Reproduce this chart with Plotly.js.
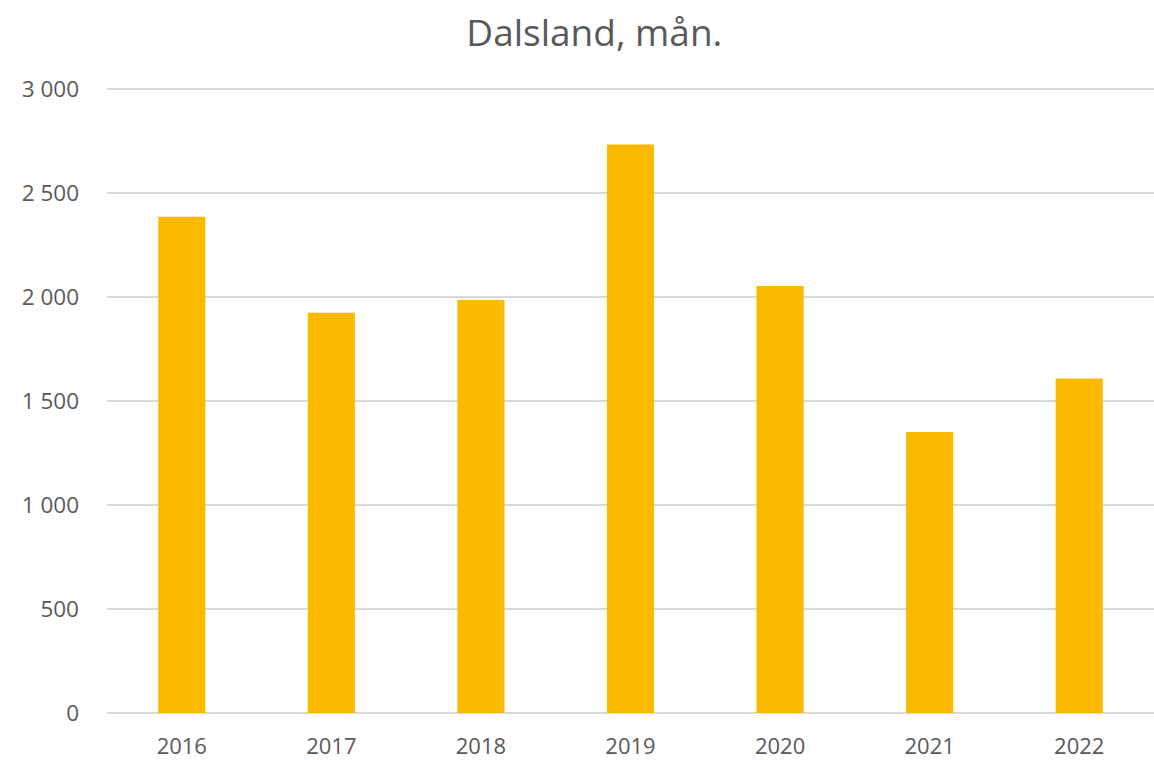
<!DOCTYPE html>
<html>
<head>
<meta charset="utf-8">
<script src="https://cdn.plot.ly/plotly-3.0.1.min.js"></script>
<style>html,body{margin:0;padding:0;background:#fff;}#chart{width:1154px;height:760px;}</style>
</head>
<body>
<div id="chart"></div>
<script>
const years = ['2016', '2017', '2018', '2019', '2020', '2021', '2022'];
const values = [2386, 1925, 1986, 2734, 2054, 1351, 1609];
const yTickVals = [0, 500, 1000, 1500, 2000, 2500, 3000];

const trace = {
  type: 'bar',
  x: years,
  y: values,
  marker: { color: '#FBB900' },
  hoverinfo: 'x+y'
};

const layout = {
  width: 1154,
  height: 760,
  paper_bgcolor: '#ffffff',
  plot_bgcolor: '#ffffff',
  separators: ', ',
  font: { family: '"Open Sans", sans-serif', color: '#595959', size: 22 },
  title: {
    text: 'Dalsland, mån.',
    font: { size: 37, color: '#595959', family: '"Open Sans", sans-serif' },
    x: 0.515, xanchor: 'center',
    y: 0.957, yanchor: 'middle'
  },
  margin: { l: 107, r: 0, t: 85, b: 47 },
  bargap: 0.685,
  showlegend: false,
  xaxis: {
    type: 'category',
    showgrid: false,
    zeroline: false,
    showline: false,
    ticks: '',
    ticklabelstandoff: 18,
    tickfont: { size: 22, color: '#595959' }
  },
  yaxis: {
    range: [0, 3020],
    tickvals: yTickVals,
    tickformat: ',d',
    showgrid: true,
    gridcolor: '#d9d9d9',
    gridwidth: 2,
    zeroline: true,
    zerolinecolor: '#d9d9d9',
    zerolinewidth: 2,
    showline: false,
    ticks: '',
    ticklabelstandoff: 27,
    tickfont: { size: 22.5, color: '#595959' }
  }
};

Plotly.newPlot('chart', [trace], layout, { displayModeBar: false, staticPlot: true });
</script>
</body>
</html>
